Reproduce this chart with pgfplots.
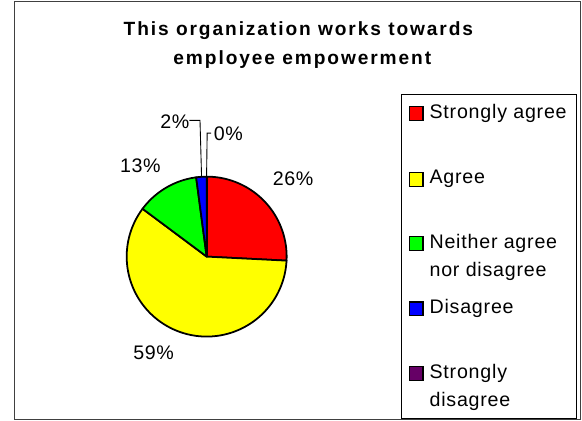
\documentclass[border=0pt]{standalone}
\usepackage{fontspec}
\setmainfont{Liberation Sans}
\usepackage{pgfplots}
\pgfplotsset{compat=1.18}
\usepgfplotslibrary{polar}

\definecolor{cSA}{HTML}{FF0000}
\definecolor{cA}{HTML}{FFFF00}
\definecolor{cN}{HTML}{00FF00}
\definecolor{cD}{HTML}{0000FF}
\definecolor{cSD}{HTML}{660066}

% shares in percent, clockwise from 12 o'clock
\def\pSA{25.8}
\def\pA{59.4}
\def\pN{12.7}
\def\pD{2.1}
\def\pSD{0.0}

\newcommand\lab{\fontsize{20pt}{24pt}\selectfont\addfontfeature{LetterSpace=3}}
\newcommand\leg{\fontsize{20pt}{24pt}\selectfont\addfontfeature{LetterSpace=4}}
\newcommand\ttl{\fontsize{19.5pt}{23pt}\selectfont\bfseries\addfontfeature{LetterSpace=10}}

\begin{document}
\pgfmathsetmacro\aSA{90-3.6*\pSA}
\pgfmathsetmacro\aA{\aSA-3.6*\pA}
\pgfmathsetmacro\aN{\aA-3.6*\pN}
\pgfmathsetmacro\aD{\aN-3.6*\pD}
\begin{tikzpicture}
\begin{polaraxis}[
    at={(199.5pt,-261.5pt)}, anchor=center,
    width=163pt, height=163pt, scale only axis,
    hide axis, clip=false,
    xmin=0, xmax=360, ymin=0, ymax=1,
    slice/.style={draw=black, line width=1.8pt, line join=round, mark=none},
]
\addplot[slice, fill=cSA, domain=\aSA:90, samples=80] {1} -- (axis cs:0,0) -- cycle;
\addplot[slice, fill=cA, domain=\aA:\aSA, samples=150] {1} -- (axis cs:0,0) -- cycle;
\addplot[slice, fill=cN, domain=\aN:\aA, samples=50] {1} -- (axis cs:0,0) -- cycle;
\addplot[slice, fill=cD, domain=\aD:\aN, samples=10] {1} -- (axis cs:0,0) -- cycle;
\addplot[slice] coordinates {(90,0) (90,1)};
\end{polaraxis}

\begin{scope}[x=1pt, y=-1pt]
% outer frame
\draw[line width=1.2pt, black!75] (3.5,1.5) rectangle (580.5,427.5);
% title
\begin{scope}[every node/.style={inner sep=0pt, anchor=base}]
\node[font=\ttl] at (293,36.5) {This organization works towards};
\node[font=\ttl] at (297,66) {employee empowerment};
% data labels
\node[font=\lab] at (287.5,189) {26\%};
\node[font=\lab] at (145.5,366.7) {59\%};
\node[font=\lab] at (132,176) {13\%};
\node[font=\lab] at (167,130.5) {2\%};
\node[font=\lab, anchor=base west] at (206.7,143) {0\%};
\end{scope}
% leader lines
\draw[line width=0.9pt] (182,122.7) -- (192.7,122.7) -- (194.3,180);
\draw[line width=0.9pt] (204,135.7) -- (200,135.7) -- (199.4,180);
% legend
\draw[line width=1pt] (398.5,96) rectangle (576,426);
\begin{scope}[every node/.style={inner sep=0pt, anchor=base west, align=left, font=\leg}]
\draw[line width=1.2pt, fill=cSA] (406,108.7) rectangle (420,122.7);
\node at (426.5,120.5) {Strongly agree};
\draw[line width=1.2pt, fill=cA] (406,175.8) rectangle (420,189.8);
\node at (426.5,187.5) {Agree};
\draw[line width=1.2pt, fill=cN] (406,241.3) rectangle (420,255.3);
\node at (426.5,253) {Neither agree};
\node at (426.5,281.5) {nor disagree};
\draw[line width=1.2pt, fill=cD] (406,307.7) rectangle (420,321.7);
\node at (426.5,319.5) {Disagree};
\draw[line width=1.2pt, fill=cSD] (406,373.7) rectangle (420,387.7);
\node at (426.5,385.5) {Strongly};
\node at (426.5,414) {disagree};
\end{scope}
\end{scope}
\pgfresetboundingbox
\path (0pt,0pt) rectangle (582pt,-429pt);
\end{tikzpicture}
\end{document}
